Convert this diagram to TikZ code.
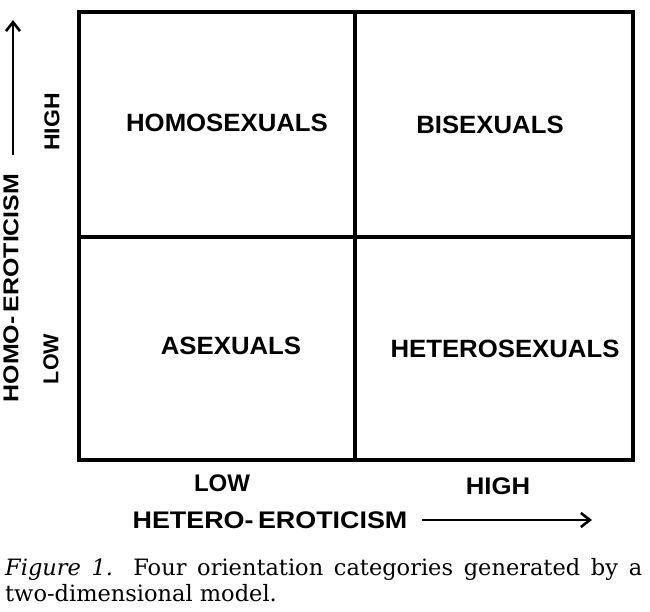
\documentclass[tikz,border=0pt]{standalone}
\usepackage{fontspec}
\setmainfont{DejaVu Serif}
\setsansfont{Liberation Sans}
\usetikzlibrary{arrows.meta}
\begin{document}
\begin{tikzpicture}[x=1pt,y=-1pt,
  grid/.style={line width=3.2pt},
  cat/.style={font=\sffamily\bfseries\fontsize{25}{30}\selectfont, inner sep=0pt, xscale=1.03},
  axislab/.style={font=\sffamily\bfseries\fontsize{24}{28}\selectfont, inner sep=0pt},
  ylab/.style={font=\sffamily\bfseries\fontsize{21.5}{25}\selectfont, inner sep=0pt, rotate=90},
  axarrow/.style={line width=2pt, -{Straight Barb[length=9pt,width=14pt,line width=2.6pt]}},
  capt/.style={font=\fontsize{22.5}{26.5}\selectfont, inner sep=0pt, anchor=north west, text width=637pt, align=justify}]
\useasboundingbox (0,0) rectangle (650,611);
\coordinate (tl) at (79,12);
\coordinate (br) at (633,460);
\coordinate (tm) at (355,12);
\coordinate (bm) at (355,460);
\coordinate (ml) at (79,237);
\coordinate (mr) at (633,237);
\draw[grid] (tl) rectangle (br);
\draw[grid] (tm) -- (bm);
\draw[grid] (ml) -- (mr);
\node[cat] (homo) at (227,123) {HOMOSEXUALS};
\node[cat] (bi) at (490,125) {BISEXUALS};
\node[cat] (ase) at (231,346) {ASEXUALS};
\node[cat] (het) at (505,349) {HETEROSEXUALS};
\node[ylab, xscale=1.07] (yhigh) at (52,122) {HIGH};
\node[ylab] (ylow) at (51,359) {LOW};
\node[ylab, xscale=1.16] (ytitle) at (11,288) {HOMO-\,EROTICISM};
\coordinate (yarrs) at (13,155);
\coordinate (yarre) at (13,20);
\draw[axarrow] (yarrs) -- (yarre);
\node[axislab] (xlow) at (222,483) {LOW};
\node[axislab, xscale=1.07] (xhigh) at (498,486) {HIGH};
\node[axislab, xscale=1.12] (xtitle) at (270,520) {HETERO-\,EROTICISM};
\coordinate (xarrs) at (422,520);
\coordinate (xarre) at (592,520);
\draw[axarrow] (xarrs) -- (xarre);
\node[capt] (cap) at (5,558) {\textit{Figure 1.} Four orientation categories generated by a\linebreak two-dimensional model.};
\end{tikzpicture}
\end{document}
